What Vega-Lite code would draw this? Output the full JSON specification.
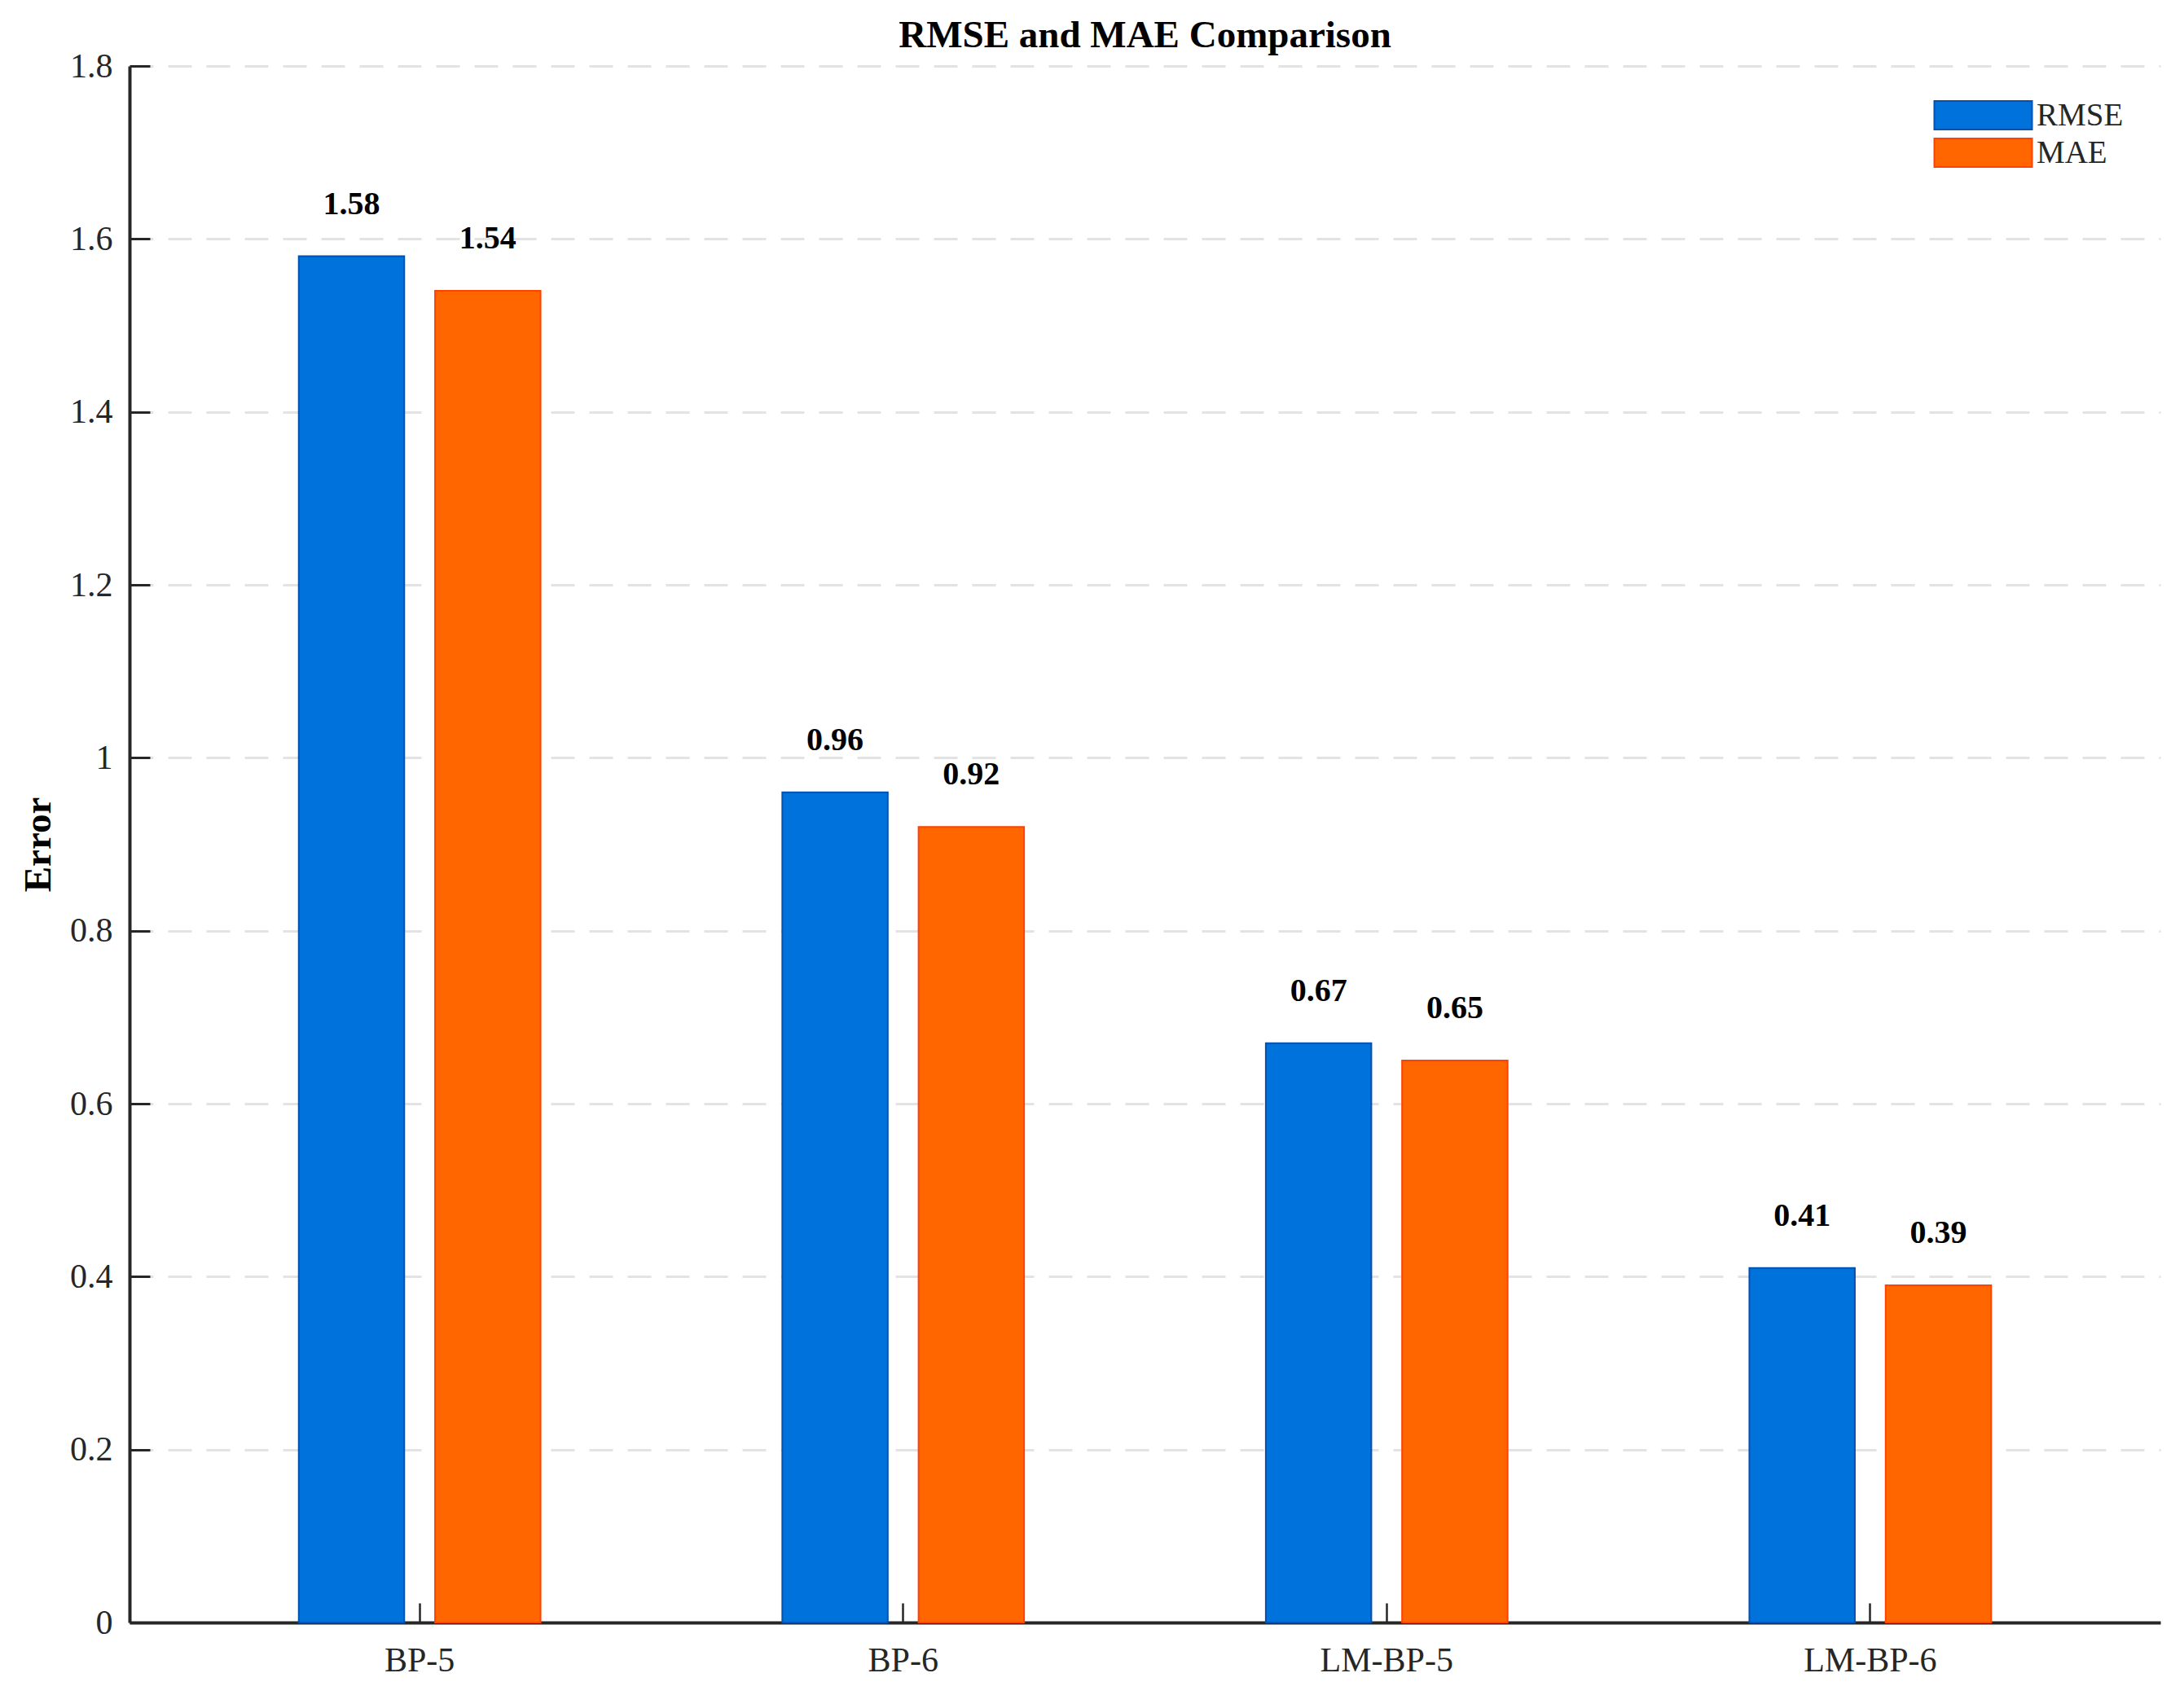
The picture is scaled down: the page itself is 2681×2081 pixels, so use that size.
{
  "$schema": "https://vega.github.io/schema/vega-lite/v6.json",
  "description": "RMSE and MAE of four network models, grouped bars.",
  "width": 2493,
  "height": 1911,
  "autosize": {"type": "none"},
  "padding": {"left": 159, "top": 81, "right": 29, "bottom": 89},
  "background": "white",
  "title": {
    "text": "RMSE and MAE Comparison",
    "font": "Liberation Serif",
    "fontSize": 47,
    "fontWeight": "bold",
    "color": "#000000",
    "anchor": "middle",
    "frame": "group",
    "baseline": "alphabetic",
    "offset": 2,
    "dy": 47
  },
  "data": {
    "values": [
      {"model": "BP-5", "metric": "RMSE", "value": 1.58},
      {"model": "BP-5", "metric": "MAE", "value": 1.54},
      {"model": "BP-6", "metric": "RMSE", "value": 0.96},
      {"model": "BP-6", "metric": "MAE", "value": 0.92},
      {"model": "LM-BP-5", "metric": "RMSE", "value": 0.67},
      {"model": "LM-BP-5", "metric": "MAE", "value": 0.65},
      {"model": "LM-BP-6", "metric": "RMSE", "value": 0.41},
      {"model": "LM-BP-6", "metric": "MAE", "value": 0.39}
    ]
  },
  "encoding": {
    "x": {
      "field": "model",
      "type": "nominal",
      "sort": ["BP-5", "BP-6", "LM-BP-5", "LM-BP-6"],
      "scale": {"paddingInner": 0.5, "paddingOuter": 0.35},
      "axis": {
        "title": null,
        "labelAngle": 0,
        "labelFont": "Liberation Serif",
        "labelFontSize": 42,
        "labelColor": "#262626",
        "labelPadding": 50,
        "domainColor": "#262626",
        "domainWidth": 4,
        "tickColor": "#262626",
        "tickSize": -24,
        "tickWidth": 2.5,
        "grid": false
      }
    },
    "xOffset": {
      "field": "metric",
      "type": "nominal",
      "sort": ["RMSE", "MAE"],
      "scale": {"paddingInner": 0.226, "paddingOuter": 0}
    },
    "y": {
      "field": "value",
      "type": "quantitative",
      "scale": {"domain": [0, 1.8], "nice": false},
      "axis": {
        "title": "Error",
        "titleFont": "Liberation Serif",
        "titleFontSize": 47,
        "titleFontWeight": "bold",
        "titleColor": "#000000",
        "titlePadding": 14,
        "values": [0, 0.2, 0.4, 0.6, 0.8, 1, 1.2, 1.4, 1.6, 1.8],
        "labelExpr": "format(datum.value, '.1~f')",
        "labelFont": "Liberation Serif",
        "labelFontSize": 42,
        "labelColor": "#262626",
        "labelPadding": 46,
        "domainColor": "#262626",
        "domainWidth": 4,
        "tickColor": "#262626",
        "tickSize": -25,
        "tickWidth": 3,
        "grid": true,
        "gridColor": "#E3E3E3",
        "gridWidth": 3,
        "gridDash": [29, 18]
      }
    }
  },
  "layer": [
    {
      "mark": {"type": "bar", "strokeWidth": 2},
      "encoding": {
        "color": {
          "field": "metric",
          "type": "nominal",
          "scale": {"domain": ["RMSE", "MAE"], "range": ["#0072DB", "#FF6600"]},
          "legend": {
            "orient": "none",
            "legendX": 2256,
            "legendY": 41,
            "title": null,
            "padding": 0,
            "symbolType": "M-12,-3.5H12V3.5H-12Z",
            "symbolSize": 100,
            "symbolStrokeWidth": 2,
            "symbolOpacity": 1,
            "labelFont": "Liberation Serif",
            "labelFontSize": 39,
            "labelColor": "#262626",
            "labelOffset": 46,
            "rowPadding": 3
          }
        },
        "stroke": {
          "field": "metric",
          "type": "nominal",
          "scale": {"domain": ["RMSE", "MAE"], "range": ["#0052B0", "#FF4200"]}
        }
      }
    },
    {
      "mark": {
        "type": "text",
        "baseline": "alphabetic",
        "align": "center",
        "dy": -52,
        "font": "Liberation Serif",
        "fontSize": 40,
        "fontWeight": "bold",
        "color": "#000000"
      },
      "encoding": {
        "text": {"field": "value", "type": "quantitative", "format": ".2f"}
      }
    }
  ],
  "config": {"view": {"stroke": null}}
}
